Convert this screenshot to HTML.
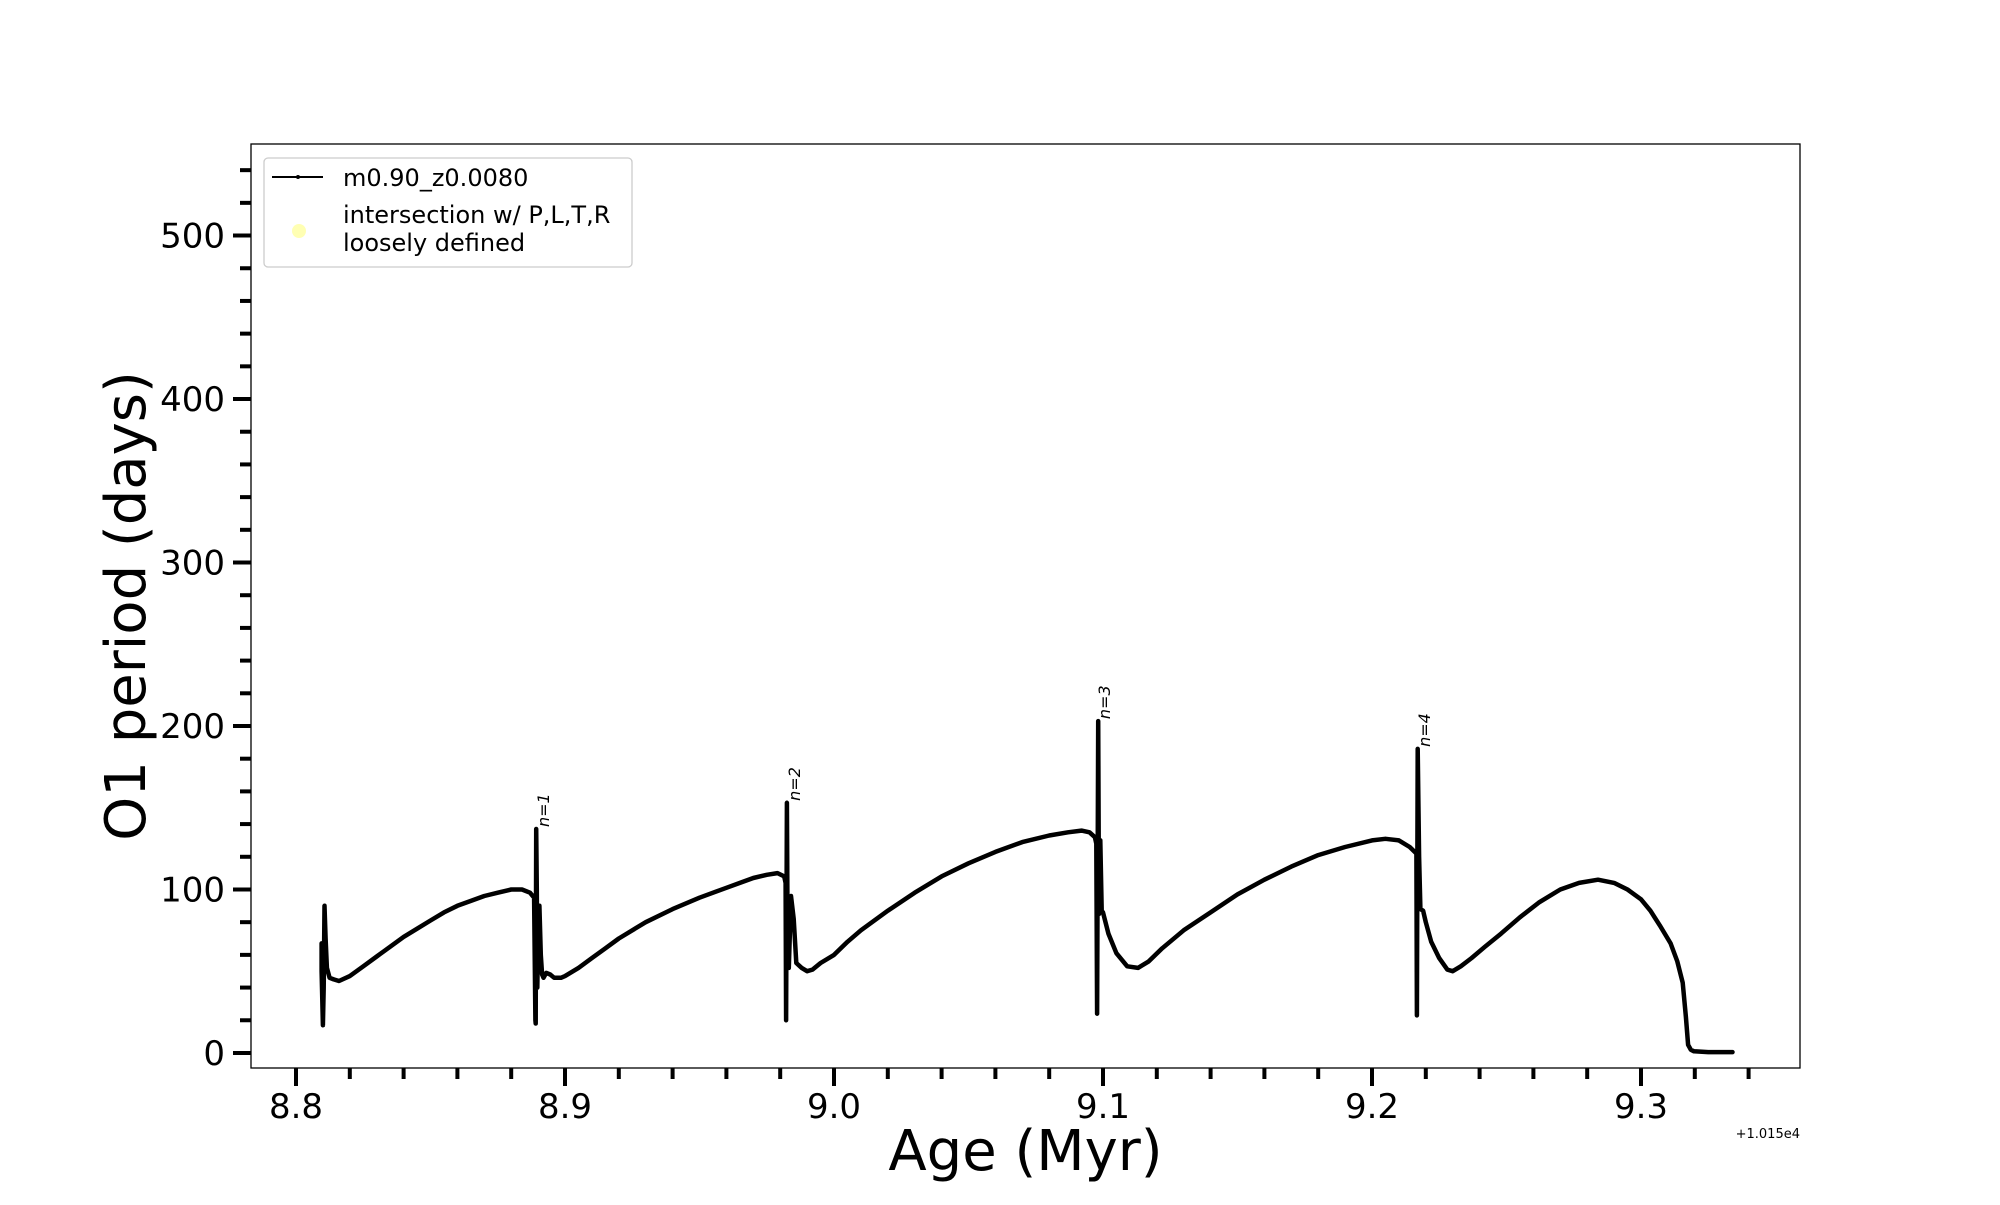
<!DOCTYPE html>
<html><head><meta charset="utf-8"><style>
html,body{margin:0;padding:0;background:#fff;}
svg text{font-family:"DejaVu Sans","Liberation Sans",sans-serif;}
</style></head><body>
<svg id="chart" width="2000" height="1200" viewBox="0 0 2000 1200" xmlns="http://www.w3.org/2000/svg">
<rect width="2000" height="1200" fill="#fff"/>
<g id="plot"></g>
</svg>
<script>
const ages=[8.8095,8.8095,8.8100,8.8103,8.8106,8.8110,8.8115,8.8125,8.8140,8.8160,8.820,8.825,8.830,8.835,8.840,8.845,8.850,8.855,8.860,8.865,8.870,8.875,8.880,8.884,8.8870,8.8885,8.8890,8.8891,8.8893,8.8895,8.8897,8.8900,8.8905,8.8910,8.8915,8.8920,8.8930,8.8945,8.8960,8.8970,8.8985,8.900,8.905,8.910,8.915,8.920,8.925,8.930,8.940,8.950,8.960,8.965,8.970,8.975,8.979,8.9815,8.9820,8.9822,8.9825,8.9828,8.9832,8.9840,8.9850,8.9860,8.9880,8.9900,8.9920,8.9950,9.000,9.005,9.010,9.020,9.030,9.040,9.050,9.060,9.070,9.080,9.087,9.092,9.095,9.097,9.0975,9.0978,9.0982,9.0985,9.0990,9.0995,9.1000,9.1020,9.1050,9.1090,9.1130,9.1170,9.1220,9.130,9.140,9.150,9.160,9.170,9.180,9.190,9.200,9.205,9.210,9.214,9.2165,9.2167,9.2170,9.2175,9.2180,9.2190,9.2200,9.2220,9.2250,9.2280,9.2300,9.2330,9.237,9.242,9.248,9.255,9.262,9.270,9.277,9.284,9.290,9.295,9.300,9.3035,9.307,9.311,9.3135,9.3155,9.3167,9.3175,9.3185,9.3197,9.325,9.334];
const periods=[67,50,17,40,90,70,52,46,45,44,47,53,59,65,71,76,81,86,90,93,96,98,100,100,98,95,20,18,137,100,40,70,90,60,48,46,49,48,46,46,46,47,52,58,64,70,75,80,88,95,101,104,107,109,110,108,104,20,153,60,52,96,82,55,52,50,51,55,60,68,75,87,98,108,116,123,129,133,135,136,135,132,128,24,203,85,130,87,86,73,61,53,52,56,64,75,86,97,106,114,121,126,130,131,130,126,122,23,186,120,88,87,80,68,58,51,50,53,58,65,73,83,92,100,104,106,104,100,94,87,78,67,56,43,22,5,2,1,0.5,0.5];
const xTicks=[8.8,8.9,9.0,9.1,9.2,9.3];
const xTickLabels=["8.8","8.9","9.0","9.1","9.2","9.3"];
const yTicks=[0,100,200,300,400,500];
const yTickLabels=["0","100","200","300","400","500"];
const annX=[8.8893,8.9825,9.0978,9.2167];
const annY=[137,153,203,186];
const annText=["n=1","n=2","n=3","n=4"];

const L=251,R=1800,T=144,B=1068;
const xMin=8.78327,xMax=9.35911,yMin=-9.2,yMax=556;
const sx=v=>L+(v-xMin)/(xMax-xMin)*(R-L);
const sy=v=>B-(v-yMin)/(yMax-yMin)*(B-T);
const NS="http://www.w3.org/2000/svg";
const g=document.getElementById('plot');
function mk(tag,attrs,parent){const e=document.createElementNS(NS,tag);for(const k in attrs)e.setAttribute(k,attrs[k]);(parent||g).appendChild(e);return e;}

const frame=mk('rect',{x:L,y:T,width:R-L,height:B-T,fill:'none',stroke:'#000','stroke-width':1.3});



for(let v=0;v<=540;v+=20){
  const major=v%100===0;
  const t=mk('line',{x1:L,x2:L-(major?18:11),y1:sy(v),y2:sy(v),stroke:'#000','stroke-width':4});
  
  
}
yTicks.forEach((v,i)=>{
  const t=mk('text',{x:L-26,y:sy(v)+12,'text-anchor':'end','font-size':34,fill:'#000'});
  t.textContent=yTickLabels[i];
  
  
});
for(let k=0;k<=28;k++){
  const v=8.8+k*0.02;
  if(v>xMax)break;
  const major=k%5===0;
  const t=mk('line',{x1:sx(v),x2:sx(v),y1:B,y2:B+(major?18:11),stroke:'#000','stroke-width':4});
  
  
}
xTicks.forEach((v,i)=>{
  const t=mk('text',{x:sx(v),y:1118,'text-anchor':'middle','font-size':34,fill:'#000'});
  t.textContent=xTickLabels[i];
  
  
});
const off=mk('text',{x:R,y:1138,'text-anchor':'end','font-size':13,fill:'#000'});
off.textContent='+1.015e4';



const xt=mk('text',{x:(L+R)/2,y:1170,'text-anchor':'middle','font-size':56,fill:'#000'});
xt.textContent='Age (Myr)';


const yt=mk('text',{x:0,y:0,'text-anchor':'middle','font-size':56,fill:'#000',transform:`translate(145,${(T+B)/2}) rotate(-90)`});
yt.textContent='O1 period (days)';



const d=ages.map((a,i)=>(i?'L':'M')+sx(a).toFixed(1)+','+sy(periods[i]).toFixed(1)).join(' ');
const line=mk('path',{d:d,fill:'none',stroke:'#000','stroke-width':4.5,'stroke-linejoin':'round','stroke-linecap':'round'});



annX.forEach((a,i)=>{
  const x=sx(a)+13,y=sy(annY[i])-2;
  const t=mk('text',{x:0,y:0,'font-size':16,'font-style':'italic',fill:'#000',transform:`translate(${x},${y}) rotate(-90)`});
  t.textContent=annText[i];
  
  
});

const lg=mk('g',{});


mk('rect',{x:264,y:158,width:368,height:109,rx:4,fill:'#fff',stroke:'#ccc','stroke-width':1.3},lg);
const ls=mk('line',{x1:272,x2:323,y1:177,y2:177,stroke:'#000','stroke-width':2},lg);


mk('circle',{cx:298,cy:177,r:2,fill:'#000'},lg);
const l1=mk('text',{x:343,y:186,'font-size':24,fill:'#000'},lg);
l1.textContent='m0.90_z0.0080';


const dot=mk('circle',{cx:299,cy:231,r:7,fill:'#ffffb3'},lg);


const l2=mk('text',{x:343,y:223,'font-size':24,fill:'#000'},lg);
l2.textContent='intersection w/ P,L,T,R';


const l3=mk('text',{x:343,y:251,'font-size':24,fill:'#000'},lg);
l3.textContent='loosely defined';


</script>
</body></html>
